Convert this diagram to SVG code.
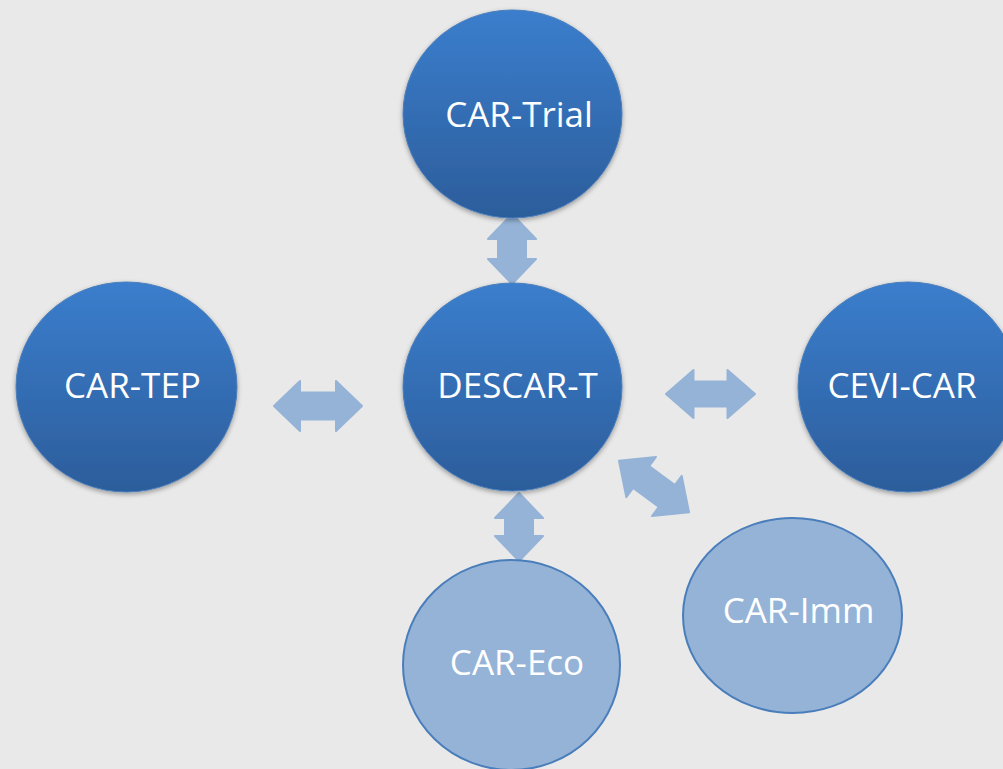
<svg xmlns="http://www.w3.org/2000/svg" width="1003" height="769" viewBox="0 0 1003 769">
<defs>
<linearGradient id="dk" x1="0" y1="0" x2="0" y2="1">
<stop offset="0" stop-color="#3b7ecd"/>
<stop offset="1" stop-color="#2c5d9b"/>
</linearGradient>
<filter id="sh" x="-20%" y="-20%" width="140%" height="140%">
<feGaussianBlur in="SourceAlpha" stdDeviation="2.5"/>
<feOffset dx="0" dy="2" result="b"/>
<feComponentTransfer><feFuncA type="linear" slope="0.35"/></feComponentTransfer>
<feMerge><feMergeNode/><feMergeNode in="SourceGraphic"/></feMerge>
</filter>
</defs>
<style>
.dark{fill:url(#dk);stroke:#4a7ebb;stroke-width:1;filter:url(#sh)}
.light{fill:#95b3d7;stroke:#4a7ebb;stroke-width:2}
.lbl{font-family:"Open Sans","Liberation Sans",sans-serif;font-size:35px;fill:#ffffff;text-anchor:middle}
.arr{fill:#95b3d7;stroke:#95b3d7;stroke-width:2;stroke-linejoin:round}
</style>
<rect width="1003" height="769" fill="#e9e9e9"/>
<g id="connectors">
<path class="arr" transform="translate(318,406)" d="M-44 0 L-18 -25 L-18 -13.5 L18 -13.5 L18 -25 L44 0 L18 25 L18 13.5 L-18 13.5 L-18 25 Z"/>
<path class="arr" transform="translate(710.5,394)" d="M-44.5 0 L-17 -24 L-17 -12.5 L17 -12.5 L17 -24 L44.5 0 L17 24 L17 12.5 L-17 12.5 L-17 24 Z"/>
<path class="arr" transform="translate(512,249) rotate(90)" d="M-35 0 L-10 -24 L-10 -14 L10 -14 L10 -24 L35 0 L10 24 L10 14 L-10 14 L-10 24 Z"/>
<path class="arr" transform="translate(519,527) rotate(90)" d="M-34 0 L-9 -24 L-9 -14 L9 -14 L9 -24 L34 0 L9 24 L9 14 L-9 14 L-9 24 Z"/>
<path class="arr" transform="translate(654,486.5) rotate(36.4)" d="M-43.5 0 L-16 -25 L-16 -13.5 L16 -13.5 L16 -25 L43.5 0 L16 25 L16 13.5 L-16 13.5 L-16 25 Z"/>
</g>
<g id="car-trial">
<ellipse class="dark" cx="512.5" cy="114" rx="109.5" ry="104"/>
<text class="lbl" x="519" y="127">CAR-Trial</text>
</g>
<g id="car-tep">
<ellipse class="dark" cx="126.5" cy="387" rx="110.5" ry="105"/>
<text class="lbl" x="132.5" y="398">CAR-TEP</text>
</g>
<g id="descar-t">
<ellipse class="dark" cx="512.5" cy="387" rx="109.5" ry="104"/>
<text class="lbl" x="517.5" y="398">DESCAR-T</text>
</g>
<g id="cevi-car">
<ellipse class="dark" cx="908" cy="387" rx="110" ry="105"/>
<text class="lbl" x="902" y="398">CEVI-CAR</text>
</g>
<g id="car-eco">
<ellipse class="light" cx="511.5" cy="665" rx="108.5" ry="105"/>
<text class="lbl" x="517" y="675">CAR-Eco</text>
</g>
<g id="car-imm">
<ellipse class="light" cx="792.5" cy="615.5" rx="109.5" ry="97.5"/>
<text class="lbl" x="798.5" y="623">CAR-Imm</text>
</g>
</svg>
